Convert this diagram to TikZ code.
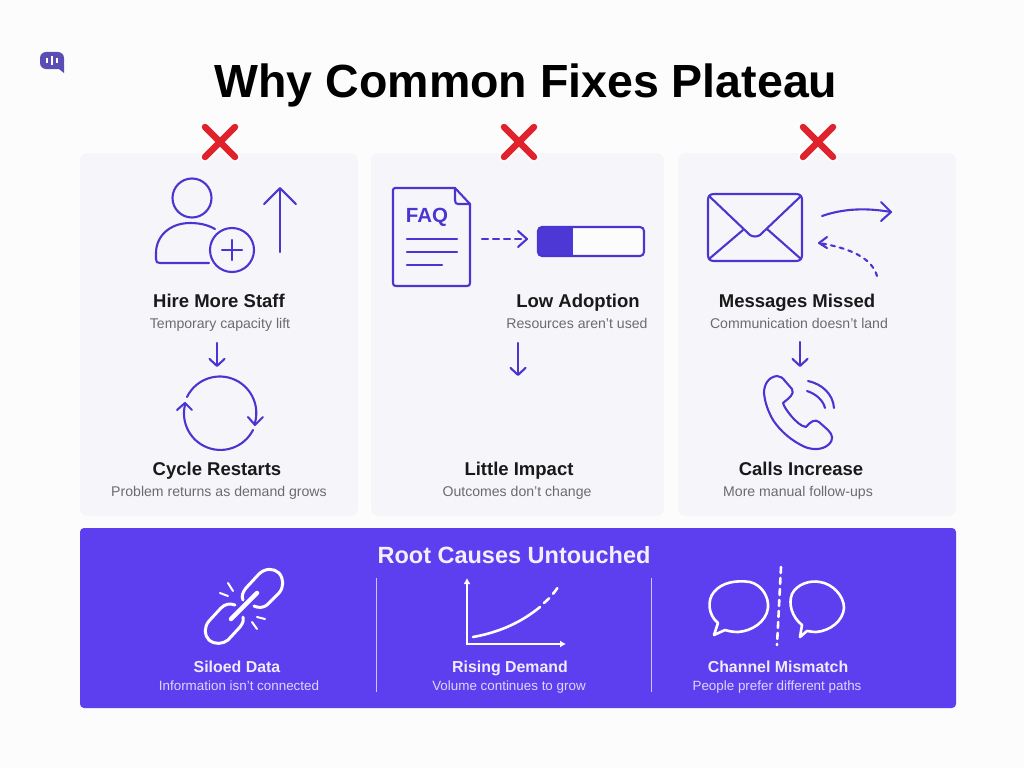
\documentclass[tikz,border=0pt]{standalone}
\usepackage{fontspec}
\setmainfont{Liberation Sans}
\usetikzlibrary{arrows.meta}
\definecolor{inkblue}{HTML}{4A35D0}
\definecolor{bandblue}{HTML}{5E3FF0}
\definecolor{cardgray}{HTML}{F6F6FA}
\definecolor{subgray}{HTML}{6A6A70}
\definecolor{bandsubc}{HTML}{DDD8FB}
\definecolor{crossred}{HTML}{E0222C}
\definecolor{logoblue}{HTML}{5A4DB4}
\tikzset{
  card/.style={fill=cardgray,draw=none,rounded corners=8pt},
  headtxt/.style={inner sep=0pt,anchor=base,font=\fontsize{18.5}{20}\selectfont\bfseries,text=black!90},
  subtxt/.style={inner sep=0pt,anchor=base,font=\fontsize{14.1}{16}\selectfont,text=subgray},
  bandhead/.style={inner sep=0pt,anchor=base,font=\fontsize{15.9}{20}\selectfont\bfseries,text=bandsubc!50!white},
  bandsub/.style={inner sep=0pt,anchor=base,font=\fontsize{13.4}{16}\selectfont,text=bandsubc},
  icon/.style={draw=inkblue,line width=2.1pt,line cap=round,line join=round},
  bandicon/.style={draw=white,line width=2.6pt,line cap=round,line join=round},
  barb/.style={-{Straight Barb[round,length=7pt,width=15pt,line width=2.1pt]}},
  dashicon/.style={dash pattern=on 6pt off 5pt},
}
\begin{document}
\begin{tikzpicture}[x=1pt,y=-1pt]
    \useasboundingbox[fill=white!99!black] (0,0) rectangle (1024,768);

    \node[inner sep=0pt,anchor=base,font=\fontsize{46.5}{54}\selectfont\bfseries] (title) at (526,97) {Why Common Fixes Plateau};

    \fill[logoblue,rounded corners=6pt] (40,52) rectangle (64,69);
    \fill[logoblue] (55,66) -- (64,64) -- (64,73) -- cycle;
    \draw[white,line width=1.3pt] (47,58) -- (47,63);
    \draw[white,line width=1.3pt] (52,56) -- (52,65);
    \draw[white,line width=1.3pt] (57,58) -- (57,63);

    \path[card] (80,153) rectangle (358,516);
    \path[card] (371,153) rectangle (664,516);
    \path[card] (678,153) rectangle (956,516);

    \foreach \cx in {220,519,818} {
        \draw[white,line width=10pt,line cap=round] (\cx-15,127) -- (\cx+15,157);
        \draw[white,line width=10pt,line cap=round] (\cx+15,127) -- (\cx-15,157);
        \draw[crossred,line width=6.5pt,line cap=round] (\cx-15,127) -- (\cx+15,157);
        \draw[crossred,line width=6.5pt,line cap=round] (\cx+15,127) -- (\cx-15,157);
    }

    % first card
    \draw[icon] (192,198) circle (19.5);
    \draw[icon] (215,229) .. controls (208,225) and (200,223) .. (190,223) .. controls (170,223) and (156,236) .. (156,253) -- (156,259) .. controls (156,262) and (157,263) .. (160,263) -- (209,263);
    \draw[icon] (232,250) circle (22);
    \draw[icon] (222,250) -- (242,250);
    \draw[icon] (232,240) -- (232,260);
    \coordinate (upfrom) at (280,252);
    \coordinate (upto) at (280,187);
    \draw[icon,-{Straight Barb[round,length=16pt,width=32pt,line width=2.1pt]}] (upfrom) -- (upto);
    \node[headtxt] (hire) at (219,307) {Hire More Staff};
    \node[subtxt] (hiresub) at (220,328) {Temporary capacity lift};
    \coordinate (hireout) at (217,343);
    \coordinate (cyclein) at (217,367);
    \draw[icon,barb] (hireout) -- (cyclein);
    \draw[icon] (187,397) arc[start angle=206,end angle=378,radius=36.5];
    \draw[icon] (248,417) -- (255,425) -- (263,417);
    \draw[icon] (253,430) arc[start angle=27,end angle=196,radius=36.5];
    \draw[icon] (177,410) -- (185,403) -- (192,410);
    \node[headtxt] (cycle) at (217,475) {Cycle Restarts};
    \node[subtxt] (cyclesub) at (219,496) {Problem returns as demand grows};

    % second card
    \draw[icon] (395,188) -- (455,188) -- (470,204) -- (470,283) .. controls (470,285) and (469,286) .. (467,286) -- (396,286) .. controls (394,286) and (393,285) .. (393,283) -- (393,190) .. controls (393,189) and (394,188) .. (395,188);
    \draw[icon] (455,188) -- (455,200) .. controls (455,203) and (456,204) .. (458,204) -- (470,204);
    \node[inner sep=0pt,text=inkblue,font=\fontsize{20.5}{22}\selectfont\bfseries] (faq) at (427,217) {FAQ};
    \draw[icon,line width=2.6pt] (407,239) -- (457,239);
    \draw[icon,line width=2.6pt] (407,252) -- (457,252);
    \draw[icon,line width=2.6pt] (407,265) -- (442,265);
    \coordinate (faqout) at (482,239);
    \coordinate (barin) at (527,239);
    \draw[icon,dashicon] (faqout) -- (barin);
    \draw[icon] (518,231) -- (527,239) -- (518,247);
    \fill[inkblue!85!bandblue,rounded corners=4pt] (538,227) rectangle (575,256);
    \fill[inkblue!85!bandblue] (560,227) rectangle (573,256);
    \fill[white!70!cardgray] (573,228) rectangle (643,255);
    \node[draw=inkblue,line width=2.1pt,rounded corners=4pt,minimum width=106pt,minimum height=29pt,inner sep=0pt] (lowbar) at (591,241.5) {};
    \node[headtxt] (low) at (578,307) {Low Adoption};
    \node[subtxt] (lowsub) at (577,328) {Resources aren't used};
    \coordinate (lowout) at (518,343);
    \coordinate (impactin) at (518,376);
    \draw[icon,barb] (lowout) -- (impactin);
    \node[headtxt] (impact) at (519,475) {Little Impact};
    \node[subtxt] (impactsub) at (517,496) {Outcomes don't change};

    % third card
    \draw[icon] (708,200) .. controls (708,196) and (710,194) .. (714,194) -- (796,194) .. controls (800,194) and (802,196) .. (802,200) -- (802,255) .. controls (802,259) and (800,261) .. (796,261) -- (714,261) .. controls (710,261) and (708,259) .. (708,255) -- cycle;
    \draw[icon] (709,196) -- (750,235) .. controls (753,237) and (757,237) .. (760,235) -- (801,196);
    \draw[icon] (709,259) -- (743,230);
    \draw[icon] (801,259) -- (767,229);
    \coordinate (mailout) at (822,216);
    \coordinate (mailfar) at (891,212);
    \draw[icon] (mailout) .. controls (845,208) and (868,208) .. (mailfar);
    \draw[icon] (881,202) -- (891,212) -- (881,221);
    \coordinate (backfrom) at (877,276);
    \coordinate (backto) at (819,243);
    \draw[icon,dash pattern=on 4pt off 5pt] (backfrom) .. controls (872,258) and (850,248) .. (backto);
    \draw[icon] (827,237) -- (819,243) -- (827,248);
    \node[headtxt] (missed) at (797,307) {Messages Missed};
    \node[subtxt] (missedsub) at (799,328) {Communication doesn't land};
    \coordinate (missedout) at (800,342);
    \coordinate (callsin) at (800,367);
    \draw[icon,barb] (missedout) -- (callsin);
    \draw[icon] (777,376) .. controls (768,377) and (764,385) .. (764,393) .. controls (765,403) and (768,411) .. (773,420) .. controls (781,432) and (792,441) .. (805,447) .. controls (813,450) and (822,450) .. (828,445) .. controls (834,440) and (833,435) .. (828,430) -- (819,422) .. controls (815,419) and (811,421) .. (806,427) .. controls (800,426) and (796,421) .. (792,417) .. controls (788,412) and (784,407) .. (783,403) .. controls (789,398) and (795,394) .. (792,389) -- (785,381) .. controls (783,378) and (780,376) .. (777,376) -- cycle;
    \draw[icon] (808,381) .. controls (822,384) and (833,394) .. (834,408);
    \draw[icon] (807,391) .. controls (816,394) and (823,400) .. (825,408);
    \node[headtxt] (calls) at (801,475) {Calls Increase};
    \node[subtxt] (callssub) at (798,496) {More manual follow-ups};

    % band
    \path[fill=bandblue,rounded corners=4pt] (80,528) rectangle (956,708);
    \node[inner sep=0pt,anchor=base,text=white!92!bandblue,font=\fontsize{23.5}{26}\selectfont\bfseries] (root) at (514,563) {Root Causes Untouched};
    \draw[white!70!bandblue,line width=1pt] (376,578) -- (376,692);
    \draw[white!70!bandblue,line width=1pt] (651,578) -- (651,692);

    \draw[bandicon,line width=3pt] (243,600) .. controls (241,596) and (243,592) .. (246,588) -- (259,574) .. controls (265,568) and (274,568) .. (279,573) .. controls (284,579) and (284,587) .. (279,593) -- (267,605) .. controls (263,608) and (258,608) .. (254,606);
    \draw[bandicon,line width=3pt] (235,605) .. controls (230,603) and (225,604) .. (221,608) -- (209,621) .. controls (204,627) and (204,635) .. (209,640) .. controls (215,645) and (223,644) .. (228,640) -- (240,627) .. controls (243,623) and (244,620) .. (243,617);
    \draw[bandicon,line width=4.5pt] (231,619) -- (257,593);
    \draw[bandicon,line width=2pt] (228,583) -- (233,591);
    \draw[bandicon,line width=2pt] (220,593) -- (228,596);
    \draw[bandicon,line width=2pt] (257,617) -- (265,619);
    \draw[bandicon,line width=2pt] (252,622) -- (257,629);
    \node[bandhead] (siloed) at (237,672) {Siloed Data};
    \node[bandsub] (siloedsub) at (239,690) {Information isn't connected};

    \coordinate (chartorigin) at (467,644);
    \coordinate (charttop) at (467,578);
    \coordinate (chartright) at (566,644);
    \draw[bandicon,-{Latex[length=6pt,width=7pt]}] (chartorigin) -- (charttop);
    \draw[bandicon,-{Latex[length=6pt,width=7pt]}] (chartorigin) -- (chartright);
    \draw[bandicon] (473,637) .. controls (495,633) and (518,625) .. (540,607);
    \draw[bandicon,dash pattern=on 7pt off 6pt] (544,603) .. controls (550,598) and (555,592) .. (560,584);
    \node[bandhead] (rising) at (510,672) {Rising Demand};
    \node[bandsub] (risingsub) at (509,690) {Volume continues to grow};

    \draw[bandicon] (718,623) .. controls (708,615) and (707,600) .. (714,592) .. controls (722,582) and (737,580) .. (750,582) .. controls (762,585) and (769,597) .. (768,608) .. controls (766,622) and (752,631) .. (738,632) .. controls (733,632) and (728,631) .. (725,630) -- (714,635) -- cycle;
    \draw[bandicon] (802,625) .. controls (792,617) and (788,604) .. (792,594) .. controls (797,584) and (810,580) .. (820,582) .. controls (833,584) and (844,596) .. (844,608) .. controls (843,621) and (830,631) .. (816,632) .. controls (812,632) and (809,631) .. (807,631) -- (800,637) -- cycle;
    \coordinate (splittop) at (781,567);
    \coordinate (splitbottom) at (777,645);
    \draw[bandicon,dash pattern=on 6pt off 5pt] (splittop) -- (splitbottom);
    \node[bandhead] (channel) at (778,672) {Channel Mismatch};
    \node[bandsub] (channelsub) at (777,690) {People prefer different paths};
\end{tikzpicture}
\end{document}
